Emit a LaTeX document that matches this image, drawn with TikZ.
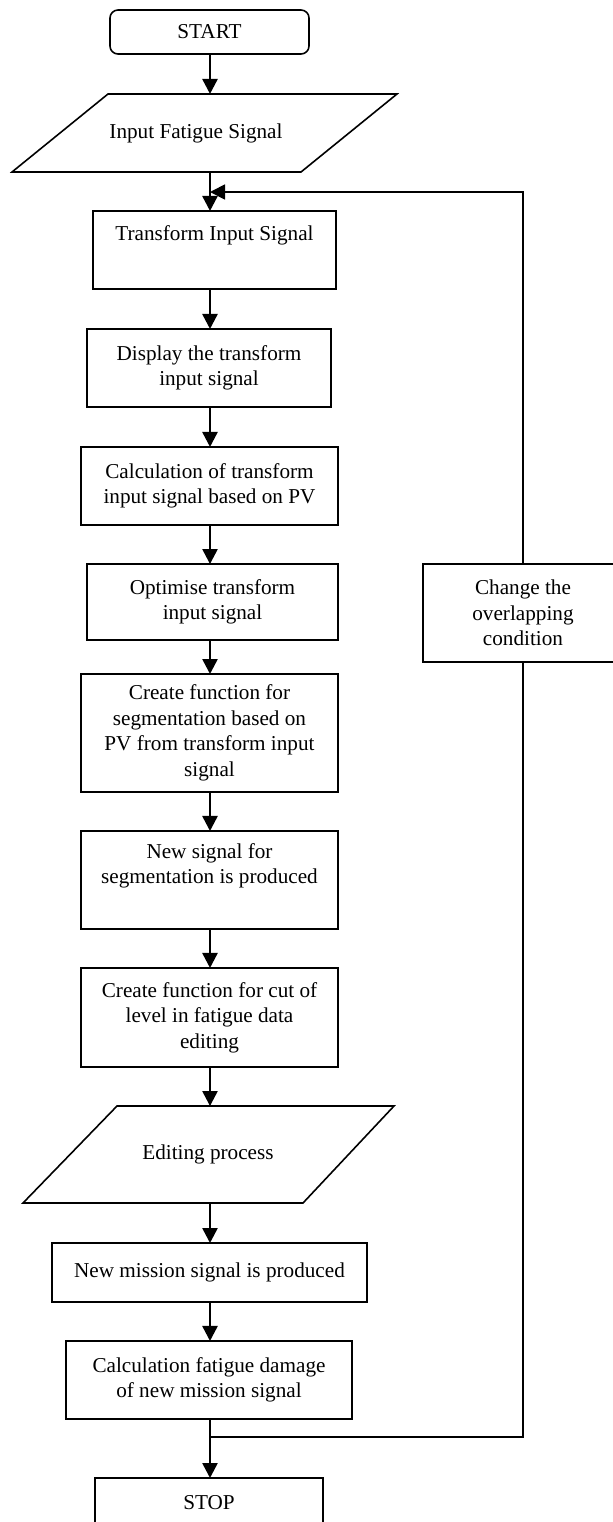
\documentclass[tikz,border=0pt]{standalone}
\usepackage{fontspec}
\setmainfont{Liberation Serif}
\usetikzlibrary{arrows.meta}
\begin{document}
\begin{tikzpicture}[x=0.5663pt,y=-0.5663pt,
  txt/.style={inner sep=0pt,outer sep=0pt,align=center,
              font=\fontsize{12}{14.5}\selectfont},
  box/.style={txt,draw,line width=0.9pt},
  outline/.style={draw,line width=0.9pt,line join=miter},
  tip/.style={-{Triangle[length=8.5pt,width=8.5pt]}},
  arr/.style={line width=1.4pt,tip},
  fb/.style={line width=1pt}]
\useasboundingbox (0,0) rectangle (613,1522);
\clip (0,0) rectangle (613,1522);

\coordinate (ax) at (210,0);

\node[box,rounded corners=4.5pt,minimum width=112.7pt,minimum height=24.9pt] (start) at (209.5,32) {START};

% input parallelogram
\draw[outline] (108,94) -- (397,94) -- (301,172) -- (12,172) -- cycle;
\node[txt,minimum height=44.2pt] (inp) at (196,133) {Input Fatigue Signal};

\node[box,minimum width=137.6pt,minimum height=44.2pt] (tr) at (214.5,250) {Transform Input Signal\\ \strut};
\node[box,minimum width=138.2pt,minimum height=44.2pt] (disp) at (209,368) {Display the transform\\input signal};
\node[box,minimum width=145.5pt,minimum height=44.2pt] (calc) at (209.5,486) {Calculation of transform\\input signal based on PV};
\node[box,minimum width=142.1pt,minimum height=43pt] (opt) at (212.5,602) {Optimise transform\\input signal};
\node[box,minimum width=145.5pt,minimum height=66.8pt] (seg) at (209.5,733) {Create function for\\segmentation based on\\PV from transform input\\signal};
\node[box,minimum width=145.5pt,minimum height=55.5pt] (newsig) at (209.5,880) {New signal for\\segmentation is produced\\ \strut};
\node[box,minimum width=145.5pt,minimum height=56.1pt] (cut) at (209.5,1017.5) {Create function for cut of\\level in fatigue data\\editing};

% editing parallelogram
\draw[outline] (117,1106) -- (394,1106) -- (303,1203) -- (23,1203) -- cycle;
\node[txt,minimum height=54.9pt] (edit) at (208,1154.5) {Editing process};

\node[box,minimum width=178.4pt,minimum height=33.4pt] (mis) at (209.5,1272.5) {New mission signal is produced};
\node[box,minimum width=162pt,minimum height=44.2pt] (dmg) at (209,1380) {Calculation fatigue damage\\of new mission signal};
\node[box,minimum width=129.1pt,minimum height=28.3pt] (stop) at (209,1503) {STOP};
\node[box,minimum width=113.3pt,minimum height=55.5pt] (chg) at (523,613) {Change the\\overlapping\\condition};

\coordinate (j1) at (210,192);
\coordinate (j2) at (210,1437);

\draw[arr] (start.south -| ax) -- (inp.north -| ax);
\draw[arr] (inp.south -| ax) -- (tr.north -| ax);
\draw[arr] (tr.south -| ax) -- (disp.north -| ax);
\draw[arr] (disp.south -| ax) -- (calc.north -| ax);
\draw[arr] (calc.south -| ax) -- (opt.north -| ax);
\draw[arr] (opt.south -| ax) -- (seg.north -| ax);
\draw[arr] (seg.south -| ax) -- (newsig.north -| ax);
\draw[arr] (newsig.south -| ax) -- (cut.north -| ax);
\draw[arr] (cut.south -| ax) -- (edit.north -| ax);
\draw[arr] (edit.south -| ax) -- (mis.north -| ax);
\draw[arr] (mis.south -| ax) -- (dmg.north -| ax);
\draw[arr] (dmg.south -| ax) -- (stop.north -| ax);

\draw[fb] (j2) -| (chg.south);
\draw[fb,tip] (chg.north) |- (j1);
\end{tikzpicture}
\end{document}
